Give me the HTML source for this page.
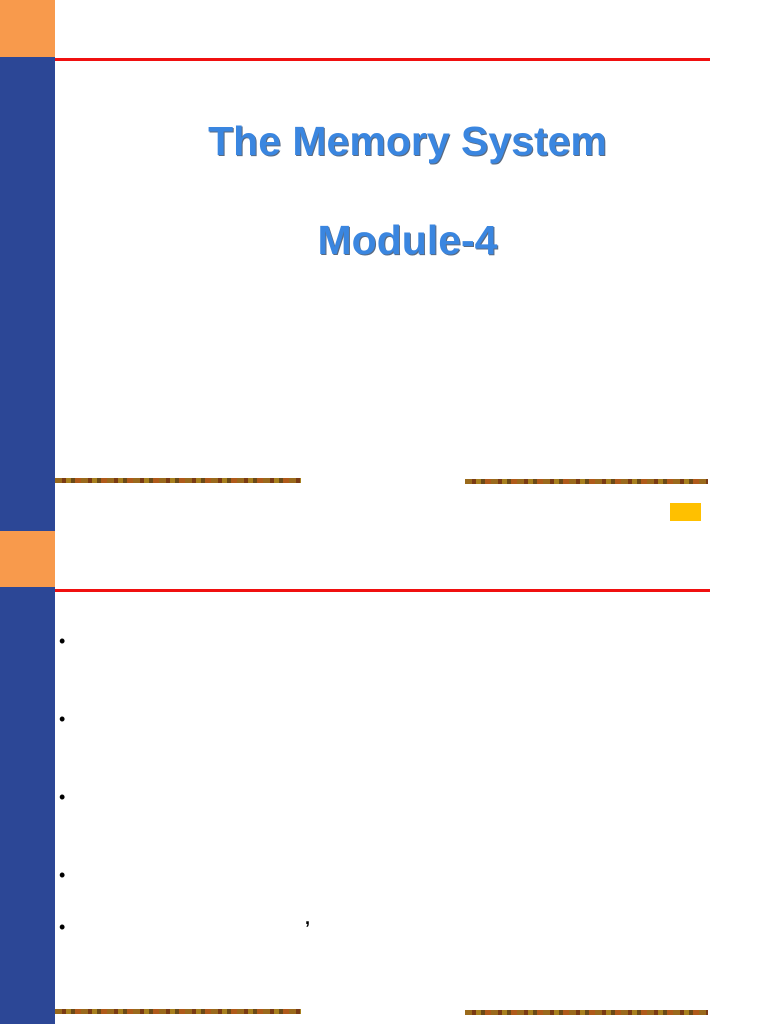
<!DOCTYPE html>
<html><head><style>
body{margin:0;width:768px;height:1024px;position:relative;background:#fff;overflow:hidden;font-family:"Liberation Sans",sans-serif}
div{position:absolute}
.t{left:55px;width:705px;text-align:center;font-weight:bold;font-size:41px;line-height:48px;color:#3a86e0;text-shadow:1px 1px 0 #5a6a80}
.s{height:5px;background:repeating-linear-gradient(90deg,#9a6a1c 0 7px,#7a3a14 7px 11px,#a8801e 11px 16px,#6a4a18 16px 20px,#b05a1a 20px 26px)}
.b{left:59px;font-size:18px}
</style></head><body>
<div style="left:0;top:0;width:55px;height:57px;background:#f89a4c"></div>
<div style="left:0;top:57px;width:55px;height:474px;background:#2c4796"></div>
<div style="left:0;top:531px;width:55px;height:56px;background:#f89a4c"></div>
<div style="left:0;top:587px;width:55px;height:437px;background:#2c4796"></div>
<div style="left:55px;top:58px;width:655px;height:3px;background:#f01010"></div>
<div style="left:55px;top:589px;width:655px;height:3px;background:#f01010"></div>
<div class="t" style="top:117px">The Memory System</div>
<div class="t" style="top:216px">Module-4</div>
<div class="s" style="left:55px;top:478px;width:246px"></div>
<div class="s" style="left:465px;top:479px;width:243px"></div>
<div style="left:670px;top:503px;width:31px;height:18px;background:#ffc000"></div>
<div class="b" style="top:631px">•</div>
<div class="b" style="top:709px">•</div>
<div class="b" style="top:787px">•</div>
<div class="b" style="top:865px">•</div>
<div class="b" style="top:917px">•</div>
<div style="left:305px;top:908px;font-size:18px;font-weight:bold">,</div>
<div class="s" style="left:55px;top:1009px;width:246px"></div>
<div class="s" style="left:465px;top:1010px;width:243px"></div>
</body></html>
